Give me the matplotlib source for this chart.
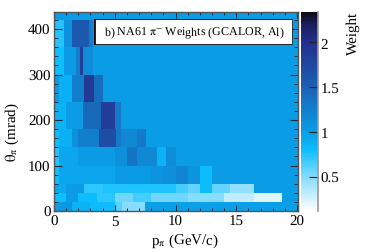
import numpy as np
import matplotlib
matplotlib.use("Agg")
import matplotlib.pyplot as plt
from matplotlib.colors import LinearSegmentedColormap, Normalize
from matplotlib.patches import Rectangle

plt.rcParams['font.family'] = ['Liberation Serif', 'DejaVu Serif']
plt.rcParams['mathtext.fontset'] = 'stix'
plt.rcParams['text.hinting'] = 'none'
plt.rcParams['text.hinting_factor'] = 1

theta_edges = [0, 20, 40, 60, 100, 140, 180, 240, 300, 360, 420, 440]
p_max = 20.2
background_weight = 1.0

row0_edges = [0, 0.4, 1.5, 3.0, 5.0, 5.6, 7.5, p_max]
row0_vals = [1.0, 1.05, 0.88, 0.82, 0.62, 0.5, 0.98]
row1_edges = [0, 1.0, 2.0, 3.5, 5.0, 6.5, 8.0, 11.0, 14.0, 16.5, 18.8, p_max]
row1_vals = [0.8, 1.0, 0.82, 0.72, 0.55, 0.66, 0.56, 0.5, 0.32, 0.22, 1.0]
row2_edges = [0, 1.0, 2.5, 4.0, 10.0, 11.0, 12.0, 13.0, 14.5, 16.5, p_max]
row2_vals = [0.92, 1.02, 0.72, 0.76, 0.66, 0.58, 0.82, 0.58, 0.46, 1.0]
row3_edges = [0, 0.4, 5.0, 8.0, 9.0, 10.0, 11.0, 12.0, 13.0, p_max]
row3_vals = [0.8, 0.95, 1.03, 1.08, 1.12, 1.2, 1.08, 0.82, 1.0]
row4_edges = [0, 0.4, 2.0, 5.0, 6.0, 6.8, 8.5, 9.2, 10.0, p_max]
row4_vals = [0.75, 0.95, 1.03, 1.12, 1.35, 1.18, 0.88, 1.15, 1.0]
row5_edges = [0, 0.4, 1.5, 2.0, 3.7, 5.1, 5.5, 6.8, 7.6, p_max]
row5_vals = [0.8, 0.9, 1.1, 1.25, 1.7, 1.3, 1.18, 1.3, 1.0]
row6_edges = [0, 1.0, 2.4, 3.9, 5.0, 5.5, p_max]
row6_vals = [0.88, 1.0, 1.45, 1.85, 1.3, 1.0]
row7_edges = [0, 0.4, 1.5, 2.5, 3.3, 4.0, p_max]
row7_vals = [1.0, 0.9, 1.25, 1.9, 1.4, 1.0]
row8_edges = [0, 0.8, 1.8, 2.1, 2.4, 3.2, p_max]
row8_vals = [0.8, 1.02, 1.25, 1.85, 1.15, 1.0]
row9_edges = [0, 0.8, 1.5, 2.9, 3.2, p_max]
row9_vals = [0.75, 1.1, 1.6, 1.25, 1.0]
row10_edges = [0, p_max]
row10_vals = [background_weight]

rows = [(row0_edges, row0_vals), (row1_edges, row1_vals), (row2_edges, row2_vals),
        (row3_edges, row3_vals), (row4_edges, row4_vals), (row5_edges, row5_vals),
        (row6_edges, row6_vals), (row7_edges, row7_vals), (row8_edges, row8_vals),
        (row9_edges, row9_vals), (row10_edges, row10_vals)]

w_min, w_max = 0.12, 2.34
nodes = [(0.12, '#ffffff'), (0.5, '#85dcff'), (0.8, '#0cbfff'), (1.0, '#0a9de6'),
         (1.5, '#1a62b5'), (2.0, '#252f8f'), (2.2, '#1c1f60'), (2.34, '#0c0c14')]
cmap = LinearSegmentedColormap.from_list(
    'w', [((v - w_min) / (w_max - w_min), c) for v, c in nodes], N=256)
norm = Normalize(w_min, w_max)

W, H = 374, 253
fig = plt.figure(figsize=(W / 100, H / 100), dpi=100)
ax = fig.add_axes([54 / W, 1 - 212 / H, 244 / W, 199 / H])
for i, (edges, vals) in enumerate(rows):
    ax.pcolormesh(edges, theta_edges[i:i + 2], np.array([vals]), cmap=cmap, norm=norm,
                  shading='flat', linewidth=0, rasterized=True)
ax.set_xlim(0, 20.08)
ax.set_ylim(0, 437.5)
ax.set_xticks([0, 5, 10, 15, 20])
ax.set_xticks(np.arange(0, 21, 1), minor=True)
ax.set_yticks([0, 100, 200, 300, 400])
ax.set_yticks(np.arange(0, 431, 20), minor=True)
ax.tick_params(axis='x', which='major', direction='in', length=4.5, width=0.8, color='#1a2a3a',
               top=True, labelsize=10.5, pad=2.5)
ax.tick_params(axis='x', which='minor', direction='in', length=2.2, width=0.7, color='#1a2a3a', top=True)
ax.tick_params(axis='y', which='major', direction='in', length=6, width=0.8, color='#1a2a3a',
               right=True, labelsize=10.5, pad=2.5)
ax.tick_params(axis='y', which='minor', direction='in', length=3, width=0.7, color='#1a2a3a', right=True)
for s in ax.spines.values():
    s.set_color('#555555')
    s.set_linewidth(1.0)

fig.text(185 / W, 1 - 241 / H, r'p$_{\mathrm{\pi}}$ (GeV/c)', fontsize=10.5, ha='center', va='center')
fig.text(12 / W, 1 - 132 / H, r'$\mathrm{\theta_{\pi}}$ (mrad)', fontsize=10.5, rotation=90, ha='center', va='center')

# Label box with drop shadow
fig.add_artist(Rectangle((94 / W, 1 - 45.5 / H), 198 / W, 25.5 / H, transform=fig.transFigure,
                         facecolor='black', edgecolor='none', zorder=4))
fig.add_artist(Rectangle((95 / W, 1 - 44.5 / H), 197 / W, 24.5 / H, transform=fig.transFigure,
                         facecolor='white', edgecolor='black', linewidth=0.5, zorder=5))
fig.text(194 / W, 1 - 33 / H, r'b) NA61 $\mathrm{\pi^{-}}$ Weights (GCALOR, Al)', fontsize=8.8,
         ha='center', va='center', zorder=6)

# Colour bar
cax = fig.add_axes([301 / W, 1 - 212 / H, 17 / W, 199 / H])
scale = np.linspace(w_min, w_max, 256)[:, None]
cax.imshow(scale, aspect='auto', origin='lower', cmap=cmap, norm=norm,
           extent=[0, 1, w_min, w_max], interpolation='nearest')
cax.set_xticks([])
cax.set_yticks([0.5, 1, 1.5, 2], labels=['0.5', '1', '1.5', '2'])
cax.yaxis.tick_right()
cax.tick_params(axis='y', direction='in', length=6.5, width=0.8, color='#222222',
                labelsize=10.5, pad=2)
for name, s in cax.spines.items():
    s.set_visible(name == 'right')
cax.spines['right'].set_color('#999999')
cax.spines['right'].set_linewidth(1.2)
fig.text(353 / W, 1 - 12 / H, 'Weight', fontsize=10.5, rotation=90, ha='center', va='top')

fig.savefig('out.png', dpi=100)
